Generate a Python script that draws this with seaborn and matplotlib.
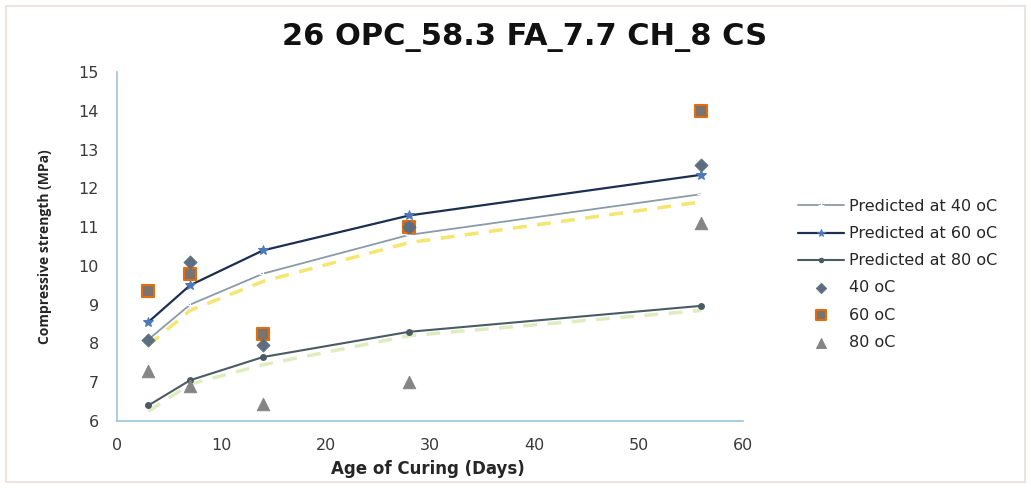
import numpy as np
import pandas as pd
import seaborn as sns
import matplotlib.pyplot as plt
from matplotlib.patches import Rectangle

# curing ages (days)
days = [3, 7, 14, 28, 56]

# predicted strength curves (MPa)
pred_40 = [8.10, 9.00, 9.80, 10.80, 11.85]
pred_60 = [8.55, 9.50, 10.40, 11.30, 12.35]
pred_80 = [6.40, 7.05, 7.65, 8.30, 8.97]

# faint ghost lines in the scan (trendlines without legend entries)
ghost_yellow = [7.95, 8.85, 9.60, 10.60, 11.65]
ghost_green = [6.25, 6.95, 7.45, 8.20, 8.85]

# measured strength (MPa)
meas_40 = [8.10, 10.10, 7.95, 11.00, 12.60]
meas_60 = [9.35, 9.80, 8.25, 11.00, 14.00]
meas_80 = [7.30, 6.90, 6.45, 7.00, 11.10]

df = pd.DataFrame({'days': days,
                   'pred_40': pred_40, 'pred_60': pred_60, 'pred_80': pred_80,
                   'ghost_yellow': ghost_yellow, 'ghost_green': ghost_green,
                   'meas_40': meas_40, 'meas_60': meas_60, 'meas_80': meas_80})

sns.set_style('white')
plt.rcParams['font.family'] = ['DejaVu Sans']

fig = plt.figure(figsize=(10.31, 4.88), dpi=100)
ax = fig.add_axes([117 / 1031, 1 - 421 / 488, 626 / 1031, 349 / 488])

# outer chart border
fig.patches.append(Rectangle((6 / 1031, 6 / 488), 1019 / 1031, 476 / 488,
                             transform=fig.transFigure, fill=False,
                             edgecolor='#ecdcd8', linewidth=1.2))

# ghost lines first so they sit underneath
sns.lineplot(data=df, x='days', y='ghost_yellow', ax=ax, color='#f2e04a',
             linewidth=2.5, dashes=(4, 3), alpha=0.8, legend=False)
sns.lineplot(data=df, x='days', y='ghost_green', ax=ax, color='#d8e8b0',
             linewidth=2.5, dashes=(4, 3), alpha=0.8, legend=False)

sns.lineplot(data=df, x='days', y='pred_40', ax=ax, color='#8a9aa8',
             linewidth=1.3, marker='+', markersize=6, label='Predicted at 40 oC')
sns.lineplot(data=df, x='days', y='pred_60', ax=ax, color='#1d2f4f',
             linewidth=1.6, marker='*', markersize=7, markerfacecolor='#4a78b8',
             markeredgecolor='#4a78b8', label='Predicted at 60 oC')
sns.lineplot(data=df, x='days', y='pred_80', ax=ax, color='#4b5b63',
             linewidth=1.5, marker='o', markersize=5, markeredgewidth=0,
             label='Predicted at 80 oC')

sns.scatterplot(data=df, x='days', y='meas_40', ax=ax, marker='D', s=45,
                color='#5c6e80', edgecolor='#5c6e80', label='40 oC', zorder=5)
sns.scatterplot(data=df, x='days', y='meas_60', ax=ax, marker='s', s=80,
                color='#7a7470', edgecolor='#e46c0a', linewidth=1.5,
                label='60 oC', zorder=4)
sns.scatterplot(data=df, x='days', y='meas_80', ax=ax, marker='^', s=80,
                color='#858585', edgecolor='#858585', label='80 oC', zorder=5)

ax.set_xlim(0, 60)
ax.set_ylim(6, 15)
ax.set_xticks(range(0, 61, 10))
ax.set_yticks(range(6, 16))
for side in ['top', 'right']:
    ax.spines[side].set_visible(False)
for side in ['left', 'bottom']:
    ax.spines[side].set_color('#9cc3d8')
    ax.spines[side].set_linewidth(1.2)
ax.tick_params(axis='both', direction='out', length=4, color='#9cc3d8',
               labelsize=11.5, labelcolor='#3a3a3a', width=1)
ax.tick_params(axis='x', pad=8)
ax.tick_params(axis='y', pad=9)

ax.set_xlabel('Age of Curing (Days)', fontsize=12, fontweight='bold')
ax.xaxis.set_label_coords(0.497, -0.112)
ax.set_ylabel('Compressive strength (MPa)', fontsize=10, fontweight='bold',
              family='Open Sans')
ax.yaxis.set_label_coords(-0.104, 0.5)

fig.text(525 / 1031, 1 - 38 / 488, '26 OPC_58.3 FA_7.7 CH_8 CS', ha='center',
         va='center', fontsize=22, fontweight='bold', color='#111111')

ax.legend(loc='center left', bbox_to_anchor=(1.065, 0.42), frameon=False,
          fontsize=11.5, handlelength=2.9, handletextpad=0.3,
          labelspacing=0.76, markerscale=0.8)

fig.savefig('out.png', dpi=100)
